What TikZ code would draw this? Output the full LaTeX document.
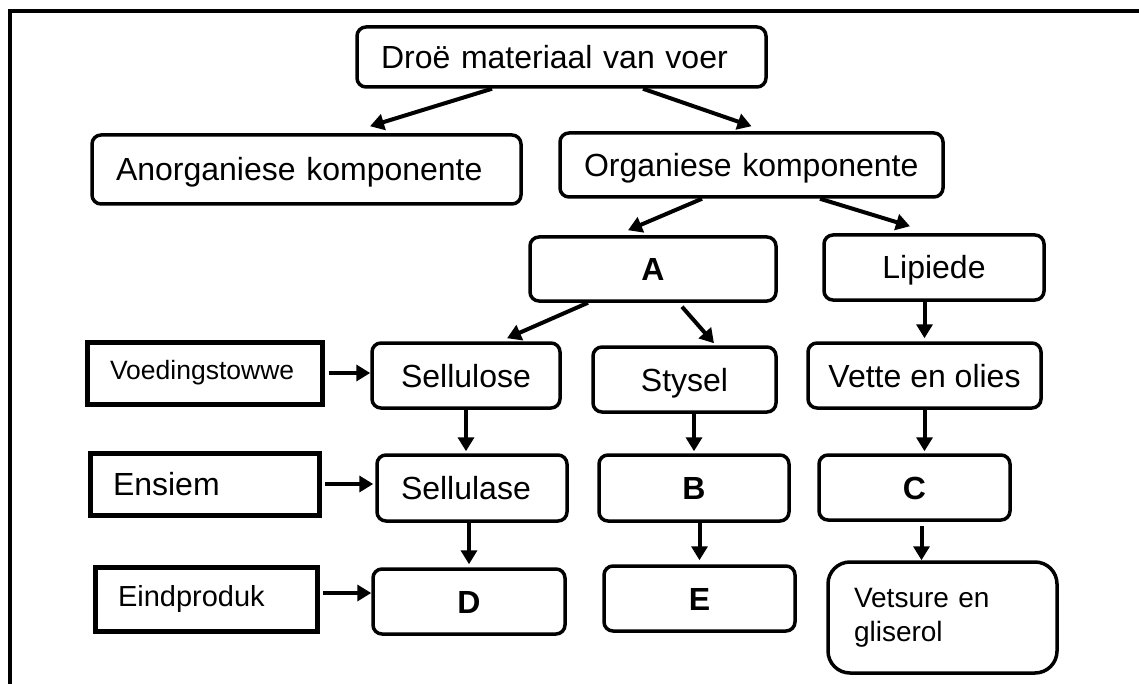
\documentclass[tikz,border=0pt]{standalone}
\usepackage{fontspec}
\setmainfont{Liberation Sans}
\usetikzlibrary{arrows.meta}

\begin{document}
\begin{tikzpicture}[x=1pt,y=-1pt]
    \tikzstyle{box} = [draw, line width=3.5pt, rounded corners=9pt, inner xsep=8pt, text height=23pt, text depth=0pt, font=\fontsize{32}{38}\selectfont]
    \tikzstyle{leftbox} = [box, inner xsep=24pt, align=left]
    \tikzstyle{sidebox} = [draw, line width=5pt, inner xsep=23pt, align=left]
    \tikzstyle{arrow} = [line width=4pt, -{Triangle[length=14pt,width=16pt]}]
    \useasboundingbox (0,0) rectangle (1139,684);

    % Frame, open at the right and at the bottom
    \draw [line width=4pt] (10,684) -- (10,11) -- (1139,11);

    % Top box
    \node [leftbox, text width=361pt, minimum height=60pt] (Droe) at (561.5,57) {Droë materiaal van voer};

    % One step down, left box
    \node [leftbox, text width=381pt, minimum height=69pt] (Anorganies) at (306.5,169.5) {Anorganiese komponente};
    \draw [arrow] ([xshift=-69.5pt]Droe.south) -- ([xshift=63.5pt,yshift=7pt]Anorganies.north);

    % One step down, right box
    \node [leftbox, text width=335pt, minimum height=64pt] (Organies) at (751.5,165) {Organiese komponente};
    \draw [arrow] ([xshift=81.5pt]Droe.south) -- ([yshift=5pt]Organies.north);

      % Two steps down, Organies is parent, left box
      \node [box, minimum width=246pt, minimum height=64pt] (A) at (653,269) {\textbf{A}};
      \draw [arrow] ([xshift=-49.5pt]Organies.south) -- ([xshift=-25pt,yshift=5pt]A.north);

      % Two steps down, Organies is parent, right box
      \node [box, minimum width=220pt, minimum height=65pt] (Lipiede) at (934,267.5) {Lipiede};
      \draw [arrow] ([xshift=68.5pt]Organies.south) -- ([xshift=-24pt,yshift=7pt]Lipiede.north);

        % Three steps down, A is parent
        \node [box, minimum width=188pt, minimum height=65pt] (Sellulose) at (466,375.5) {Sellulose};
        \draw [arrow] ([xshift=-65pt]A.south) -- ([xshift=41pt,yshift=3pt]Sellulose.north);

        \node [box, minimum width=183pt, minimum height=65pt] (Stysel) at (684.5,379.5) {Stysel};
        \draw [arrow] ([xshift=29pt,yshift=-4pt]A.south) -- ([xshift=29.5pt,yshift=2pt]Stysel.north);

        % Three steps down, Lipiede is parent
        \node [box, minimum width=233pt, minimum height=65pt] (Vette) at (924.5,375.5) {Vette en olies};
        \draw [arrow] (Lipiede.south -| Vette.north) -- ([yshift=3pt]Vette.north);

    % Side box of the Sellulose row
    \node [sidebox, text width=189pt, minimum height=62pt, font=\fontsize{26.5}{32}\selectfont] (Voeding) at (204.5,373) {Voedingstowwe};
    \draw [arrow] ([xshift=4pt]Voeding.east) -- (Voeding.east -| Sellulose.west);

    % Fourth row
    \node [leftbox, text width=142pt, minimum height=66pt] (Sellulase) at (472,488) {Sellulase};
    \draw [arrow] (Sellulose.south) -- ([yshift=2pt]Sellulose.south |- Sellulase.north);

    \node [box, minimum width=190pt, minimum height=66pt] (B) at (694,488) {\textbf{B}};
    \draw [arrow] (Stysel.south -| B.north) -- ([yshift=2pt]B.north);

    \node [box, minimum width=191pt, minimum height=65pt] (C) at (914.5,487.5) {\textbf{C}};
    \draw [arrow] (Vette.south) -- ([yshift=2pt]Vette.south |- C.north);

    % Side box of the Sellulase row
    \node [sidebox, text width=183pt, minimum height=62pt, font=\fontsize{32}{38}\selectfont] (Ensiem) at (204.5,484) {Ensiem};
    \draw [arrow] ([xshift=3pt]Ensiem.east) -- ([xshift=-2pt]Ensiem.east -| Sellulase.west);

    % Bottom row
    \node [box, minimum width=192pt, minimum height=65pt] (D) at (469,601.5) {\textbf{D}};
    \draw [arrow] (Sellulase.south -| D.north) -- ([yshift=3pt]D.north);

    \node [box, minimum width=191pt, minimum height=65pt] (E) at (699.5,598.5) {\textbf{E}};
    \draw [arrow] (B.south -| E.north) -- ([yshift=4pt]E.north);

    \node [draw, line width=3.5pt, align=left, text width=177pt, inner xsep=26pt, minimum height=111pt, rounded corners=22pt,
           font=\fontsize{28}{34}\selectfont] (Vetsure) at (942.5,617.5) {Vetsure en\\gliserol};
    \draw [arrow] ([xshift=7pt,yshift=-4pt]C.south) -- ([xshift=7pt]C.south |- Vetsure.north);

    % Side box of the bottom row
    \node [sidebox, text width=176pt, minimum height=64pt, font=\fontsize{29}{35}\selectfont] (Eindproduk) at (206,599) {Eindproduk};
    \draw [arrow] ([xshift=3pt,yshift=6pt]Eindproduk.east) -- ([yshift=6pt]Eindproduk.east -| D.west);
\end{tikzpicture}
\end{document}
